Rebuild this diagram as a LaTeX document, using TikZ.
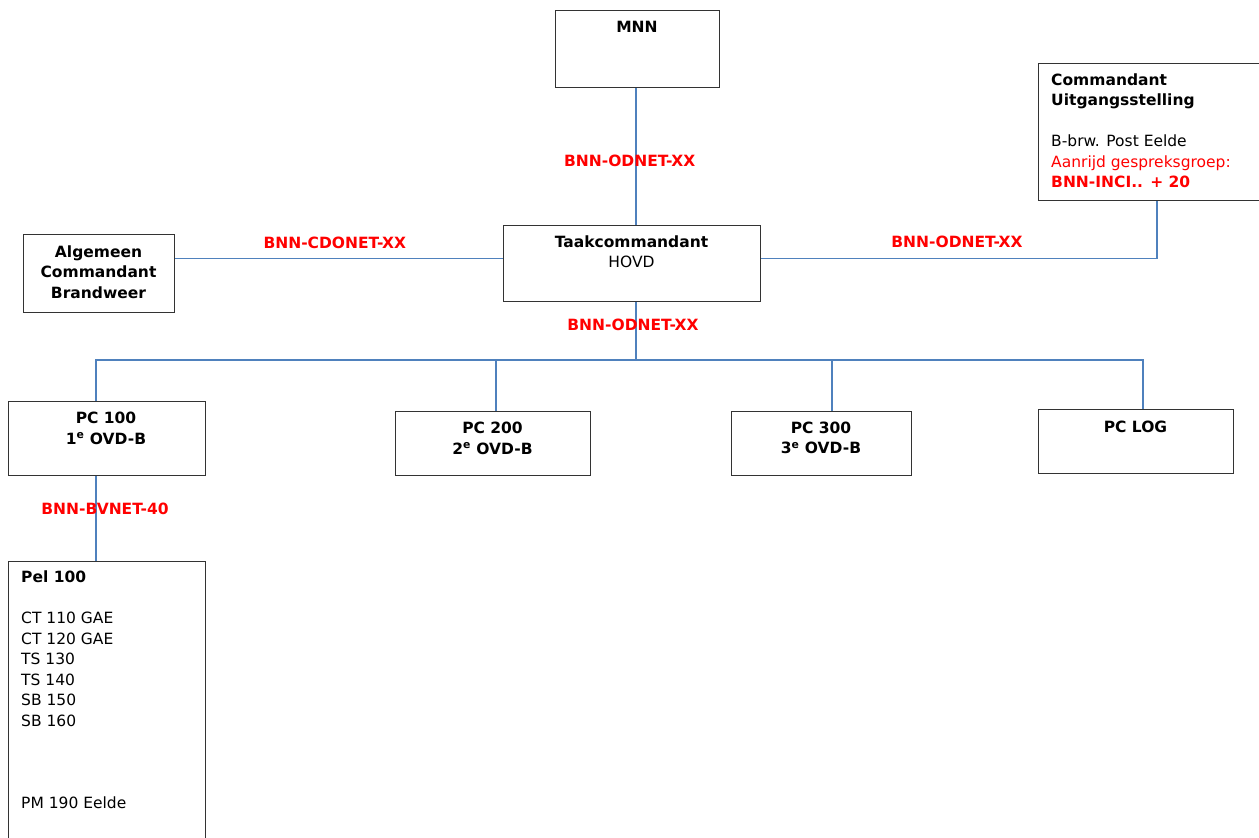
\documentclass[tikz,border=0pt]{standalone}
\usepackage{fontspec}
\setmainfont{DejaVu Sans}
\definecolor{linkblue}{RGB}{79,129,189}
\definecolor{netred}{RGB}{255,0,0}
\newcommand\dfs{\fontsize{15.5}{20.5}\selectfont}
\begin{document}
\begin{tikzpicture}[x=1pt,y=-1pt,
  box/.style={draw=black!80, line width=1.3pt, rectangle, anchor=north west, inner sep=0pt},
  conn/.style={draw=linkblue, line width=1.3pt},
  txt/.style={inner sep=0pt, anchor=north, align=center, font=\dfs},
  ltxt/.style={inner sep=0pt, anchor=north west, align=left, font=\dfs},
  net/.style={inner sep=0pt, anchor=base, text=netred, font=\dfs\bfseries},
]
\useasboundingbox (0,0) rectangle (1259,838);
\clip (0,0) rectangle (1259,838);
\fill[white] (0,0) rectangle (1259,838);

% coordinates for connector routes
\coordinate (hl) at (0,258.3);
\coordinate (bus) at (0,360);
\coordinate (vmain) at (636,0);
\coordinate (vcmd) at (1157,0);
\coordinate (d1) at (96,0);
\coordinate (d2) at (496,0);
\coordinate (d3) at (832,0);
\coordinate (d4) at (1143,0);

% boxes
\node[box, minimum width=164, minimum height=77] (mnn) at (555,10) {};
\node[box, minimum width=257, minimum height=75.5] (taak) at (503,225) {};
\node[box, minimum width=151, minimum height=78] (alg) at (23,234) {};
\node[box, minimum width=230, minimum height=137] (cmd) at (1037.5,62.5) {};
\node[box, minimum width=197, minimum height=74] (pc1) at (7.5,400.5) {};
\node[box, minimum width=195, minimum height=64] (pc2) at (395,410.5) {};
\node[box, minimum width=180, minimum height=64] (pc3) at (731,410.5) {};
\node[box, minimum width=195, minimum height=64] (pc4) at (1038,409) {};
\node[box, minimum width=197, minimum height=300] (pel) at (7.5,560.5) {};

% connectors
\draw[conn] (mnn.south -| vmain) -- (taak.north -| vmain);
\draw[conn] (alg.east |- hl) -- (taak.west |- hl);
\draw[conn] (taak.east |- hl) -| (cmd.south -| vcmd);
\draw[conn] (taak.south -| vmain) -- (vmain |- bus);
\draw[conn] (pc1.north -| d1) -- (d1 |- bus) -- (d4 |- bus) -- (pc4.north -| d4);
\draw[conn] (d2 |- bus) -- (pc2.north -| d2);
\draw[conn] (d3 |- bus) -- (pc3.north -| d3);
\draw[conn] (pc1.south -| d1) -- (pel.north -| d1);

% box texts
\node[txt, font=\dfs\bfseries] (mnnt) at (637,17.65) {\strut MNN};
\node[txt] (taakt) at (631.5,232.65) {\strut\textbf{Taakcommandant}\\HOVD};
\node[txt, font=\dfs\bfseries] (algt) at (98.5,242.65) {\strut Algemeen\\Commandant\\Brandweer};
\node[ltxt] (cmdt) at (1051,70.65) {\strut\textbf{Commandant}\\\textbf{Uitgangsstelling}\\[20.5pt]B-brw. Post Eelde\\\textcolor{netred}{Aanrijd gespreksgroep:}\\\textcolor{netred}{\textbf{BNN-INCI.. + 20}}};
\node[txt, font=\dfs\bfseries] (pc1t) at (106,409) {\strut PC 100\\1\textsuperscript{e} OVD-B};
\node[txt, font=\dfs\bfseries] (pc2t) at (492.5,419) {\strut PC 200\\2\textsuperscript{e} OVD-B};
\node[txt, font=\dfs\bfseries] (pc3t) at (821,418.7) {\strut PC 300\\3\textsuperscript{e} OVD-B};
\node[txt, font=\dfs\bfseries] (pc4t) at (1135.5,417.7) {\strut PC LOG};
\node[ltxt] (pelt) at (21,568.35) {\strut\textbf{Pel 100}\\[20.5pt]CT 110 GAE\\CT 120 GAE\\TS 130\\TS 140\\SB 150\\SB 160\\[61.5pt]PM 190 Eelde};

% network labels
\node[net] (n1) at (629.7,166) {BNN-ODNET-XX};
\node[net] (n2) at (334.8,248.3) {BNN-CDONET-XX};
\node[net] (n3) at (957,247.7) {BNN-ODNET-XX};
\node[net] (n4) at (633,330) {BNN-ODNET-XX};
\node[net] (n5) at (105,514) {BNN-BVNET-40};
\end{tikzpicture}
\end{document}
